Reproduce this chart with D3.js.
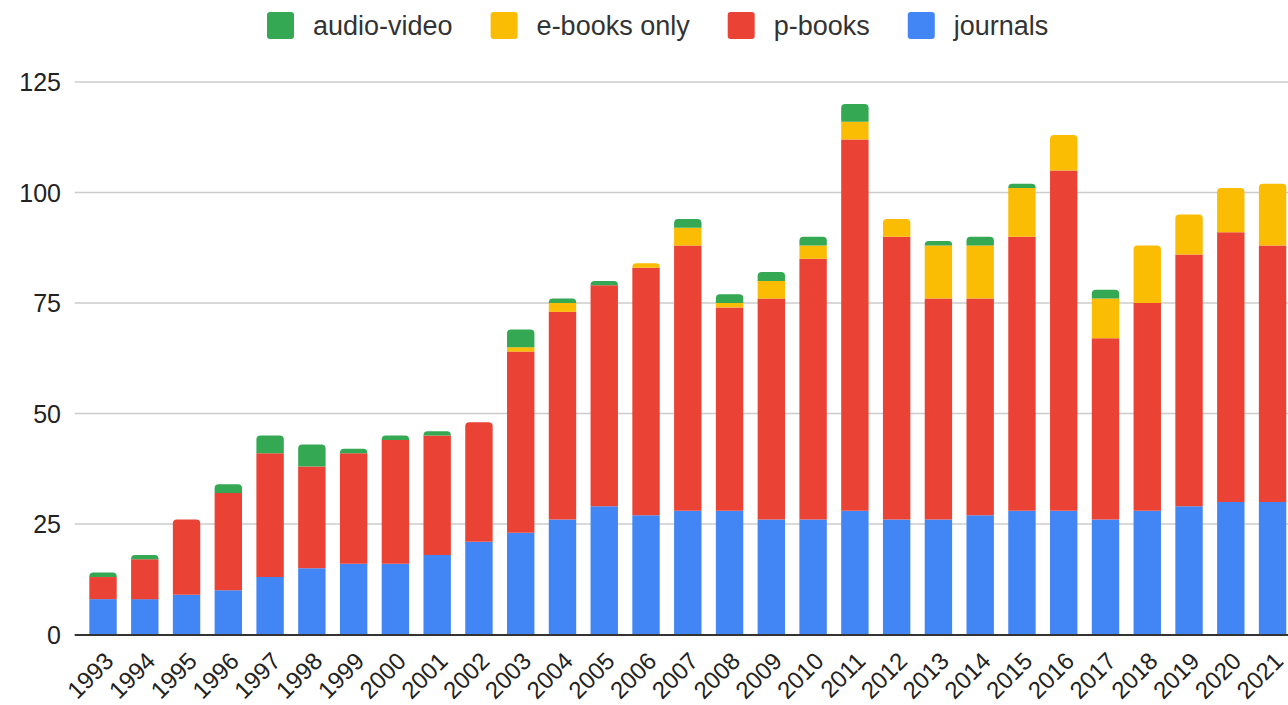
<!DOCTYPE html>
<html>
<head>
<meta charset="utf-8">
<script src="https://cdn.jsdelivr.net/npm/d3@7"></script>
<style>
  html, body { margin: 0; padding: 0; background: #fff; overflow: hidden; }
  svg { display: block; font-family: Arial, "Liberation Sans", sans-serif; }
</style>
</head>
<body>
<svg id="chart" width="1288" height="705"></svg>
<script>
// Yearly counts by publication type
const years = ["1993","1994","1995","1996","1997","1998","1999","2000","2001","2002",
               "2003","2004","2005","2006","2007","2008","2009","2010","2011","2012",
               "2013","2014","2015","2016","2017","2018","2019","2020","2021"];
const journals   = [8, 8, 9, 10, 13, 15, 16, 16, 18, 21, 23, 26, 29, 27, 28, 28, 26, 26, 28, 26, 26, 27, 28, 28, 26, 28, 29, 30, 30];
const pBooks     = [5, 9, 17, 22, 28, 23, 25, 28, 27, 27, 41, 47, 50, 56, 60, 46, 50, 59, 84, 64, 50, 49, 62, 77, 41, 47, 57, 61, 58];
const eBooksOnly = [0, 0, 0, 0, 0, 0, 0, 0, 0, 0, 1, 2, 0, 1, 4, 1, 4, 3, 4, 4, 12, 12, 11, 8, 9, 13, 9, 10, 14];
const audioVideo = [1, 1, 0, 2, 4, 5, 1, 1, 1, 0, 4, 1, 1, 0, 2, 2, 2, 2, 4, 0, 1, 2, 1, 0, 2, 0, 0, 0, 0];
const yTicks = [0, 25, 50, 75, 100, 125];

// stacking order bottom -> top
const seriesKeys = ["journals", "p-books", "e-books only", "audio-video"];
const seriesColors = {
  "journals": "#4285F4",
  "p-books": "#EA4335",
  "e-books only": "#FBBC04",
  "audio-video": "#34A853"
};
const legendOrder = ["audio-video", "e-books only", "p-books", "journals"];

const rows = years.map((y, i) => ({
  year: y,
  "journals": journals[i],
  "p-books": pBooks[i],
  "e-books only": eBooksOnly[i],
  "audio-video": audioVideo[i]
}));

const svg = d3.select("#chart");
const plotLeft = 74.7, plotRight = 1300.9, plotTop = 82, plotBottom = 634.5;

const x = d3.scaleBand()
  .domain(years)
  .range([plotLeft, plotRight])
  .paddingInner(0.344)
  .paddingOuter(0.35);

const y = d3.scaleLinear()
  .domain([0, 125])
  .range([plotBottom, plotTop]);

// gridlines
svg.append("g")
  .selectAll("line")
  .data(yTicks.filter(t => t > 0))
  .join("line")
  .attr("x1", plotLeft).attr("x2", 1288)
  .attr("y1", d => y(d)).attr("y2", d => y(d))
  .attr("stroke", "#cccccc")
  .attr("stroke-width", 1.5);

// y tick labels
const yAxis = d3.axisLeft(y).tickValues(yTicks).tickSize(0).tickPadding(0);
const yg = svg.append("g")
  .attr("transform", `translate(${61},0)`)
  .call(yAxis);
yg.select(".domain").remove();
yg.selectAll("text")
  .attr("font-size", 25)
  .attr("font-family", "Arial, 'Liberation Sans', sans-serif")
  .attr("fill", "#222")
  .attr("x", 0)
  .attr("dy", "0.35em");

// stacked bars
const stacked = d3.stack().keys(seriesKeys)(rows);

// topmost non-zero segment per year gets rounded corners
const topKey = rows.map(r => {
  let k = null;
  seriesKeys.forEach(s => { if (r[s] > 0) k = s; });
  return k;
});

function segPath(x0, w, yTop, yBot, rounded) {
  const r = rounded ? Math.min(4, (yBot - yTop)) : 0;
  if (r <= 0) return `M${x0},${yBot}V${yTop}H${x0 + w}V${yBot}Z`;
  return `M${x0},${yBot}V${yTop + r}Q${x0},${yTop} ${x0 + r},${yTop}` +
         `H${x0 + w - r}Q${x0 + w},${yTop} ${x0 + w},${yTop + r}V${yBot}Z`;
}

const barG = svg.append("g");
stacked.forEach(layer => {
  barG.append("g")
    .attr("fill", seriesColors[layer.key])
    .selectAll("path")
    .data(layer.filter(d => d[1] - d[0] > 0))
    .join("path")
    .attr("d", d => {
      const i = years.indexOf(d.data.year);
      return segPath(x(d.data.year), x.bandwidth(), y(d[1]), y(d[0]), topKey[i] === layer.key);
    });
});

// baseline
svg.append("line")
  .attr("x1", plotLeft).attr("x2", 1288)
  .attr("y1", y(0) + 0.5).attr("y2", y(0) + 0.5)
  .attr("stroke", "#333")
  .attr("stroke-width", 2);

// x labels, rotated
const xAxis = d3.axisBottom(x).tickSize(0).tickPadding(0);
const xg = svg.append("g")
  .attr("transform", `translate(0,${plotBottom})`)
  .call(xAxis);
xg.select(".domain").remove();
xg.selectAll(".tick text")
  .attr("font-size", 24)
  .attr("font-family", "Arial, 'Liberation Sans', sans-serif")
  .attr("fill", "#222")
  .attr("text-anchor", "end")
  .attr("dy", null)
  .attr("y", 0)
  .attr("transform", "translate(12,28) rotate(-45)");

// legend
const legend = svg.append("g");
let lx = 267;
legendOrder.forEach(key => {
  const item = legend.append("g");
  item.append("rect")
    .attr("x", lx).attr("y", 12)
    .attr("width", 27).attr("height", 27)
    .attr("rx", 3).attr("ry", 3)
    .attr("fill", seriesColors[key]);
  const t = item.append("text")
    .attr("x", lx + 46).attr("y", 25.5)
    .attr("dy", "0.35em")
    .attr("font-size", 27)
    .attr("fill", "#333")
    .text(key);
  lx += 46 + t.node().getComputedTextLength() + 38;
});
</script>
</body>
</html>
